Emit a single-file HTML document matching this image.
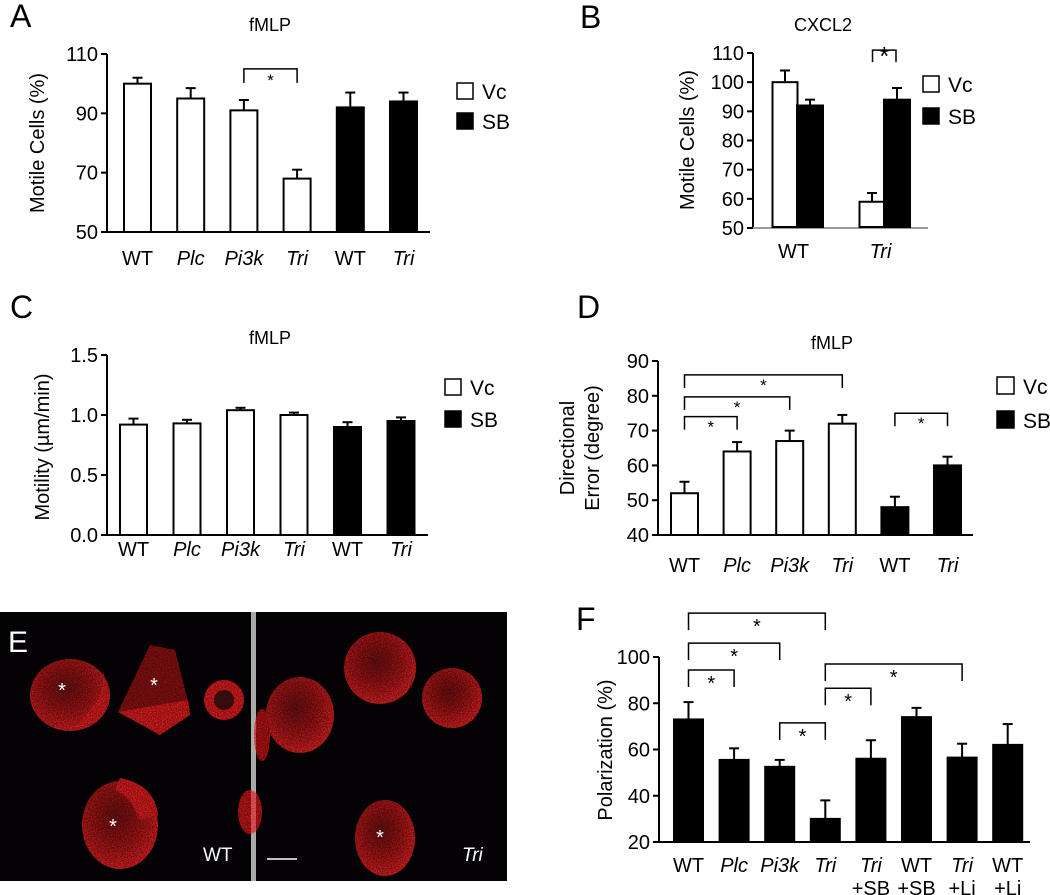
<!DOCTYPE html>
<html><head><meta charset="utf-8"><style>
html,body{margin:0;padding:0;background:#fff;}
svg{display:block;font-family:"Liberation Sans",Arial,sans-serif;}
</style></head><body>
<svg id="fig" width="1050" height="895" viewBox="0 0 1050 895" xmlns="http://www.w3.org/2000/svg">
<defs>
<filter id="speck" x="-20%" y="-20%" width="140%" height="140%">
<feTurbulence type="fractalNoise" baseFrequency="0.8" numOctaves="2" seed="3" result="n"/>
<feColorMatrix in="n" type="matrix" values="0 0 0 0 0  0 0 0 0 0  0 0 0 0 0  0 0 0 -1.0 1.15" result="m"/>
<feComposite in="SourceGraphic" in2="m" operator="in"/>
</filter>
<radialGradient id="cellg" cx="45%" cy="40%" r="60%">
<stop offset="0" stop-color="#7a1010"/><stop offset="0.6" stop-color="#c01818"/><stop offset="1" stop-color="#ff2424"/>
</radialGradient>
</defs>
<g id="panelE">
<rect x="0" y="612" width="251" height="269" fill="#050205"/>
<rect x="251" y="612" width="5" height="269" fill="#aaa"/>
<rect x="256" y="612" width="251" height="269" fill="#050205"/>
<g filter="url(#speck)">
<ellipse cx="70" cy="695" rx="40" ry="36" fill="url(#cellg)"/>
<path d="M90 710 Q108 690 102 668 Q112 700 95 722 Q80 732 72 730 Z" fill="#ff2020"/>
<path d="M150 645 L175 650 L190 710 L160 735 L118 712 Z" fill="#a01212"/>
<path d="M118 712 L188 700 L190 715 L160 735 Z" fill="#ff2020"/>
<circle cx="224" cy="700" r="20" fill="#ff2020"/>
<circle cx="224" cy="700" r="10" fill="#501010"/>
<ellipse cx="120" cy="825" rx="38" ry="44" fill="url(#cellg)"/>
<path d="M120 778 Q155 785 158 815 L140 820 Q130 795 115 790 Z" fill="#ff2020"/>
<ellipse cx="250" cy="812" rx="12" ry="22" fill="#e01818"/>
<ellipse cx="300" cy="715" rx="34" ry="38" fill="url(#cellg)"/>
<ellipse cx="262" cy="735" rx="8" ry="26" fill="#d01515"/>
<ellipse cx="380" cy="668" rx="36" ry="36" fill="url(#cellg)"/>
<ellipse cx="452" cy="698" rx="30" ry="30" fill="url(#cellg)"/>
<ellipse cx="385" cy="838" rx="30" ry="38" fill="url(#cellg)"/>
</g>
<text x="8" y="652" font-size="30" fill="#fff">E</text>
<text x="62" y="697" font-size="20" fill="#fff" text-anchor="middle">*</text>
<text x="154" y="692" font-size="20" fill="#fff" text-anchor="middle">*</text>
<text x="113" y="833" font-size="20" fill="#fff" text-anchor="middle">*</text>
<text x="380" y="844" font-size="20" fill="#fff" text-anchor="middle">*</text>
<text x="203" y="861" font-size="19" fill="#fff">WT</text>
<text x="462" y="861" font-size="19" fill="#fff" font-style="italic">Tri</text>
<line x1="267" y1="859" x2="297" y2="859" stroke="#fff" stroke-width="1.5"/>
</g>
</svg>
<script>
// Panel A
const aCats = ["WT","Plc","Pi3k","Tri","WT","Tri"];
const aVals = [100,95,91,68,92,94];
const aErrs = [2,3.5,3.5,3,5,3];
const aFill = ["w","w","w","w","b","b"];
const aTicks = [50,70,90,110];
const aBrackets = [[2,3,105]];
// Panel B
const bCats = ["WT","Tri"];
const bVc = [100,59];
const bVcErr = [4,3];
const bSB = [92,94];
const bSBErr = [2,4];
const bTicks = [50,60,70,80,90,100,110];
// Panel C
const cCats = ["WT","Plc","Pi3k","Tri","WT","Tri"];
const cVals = [0.92,0.93,1.04,1.0,0.90,0.95];
const cErrs = [0.05,0.03,0.02,0.02,0.04,0.03];
const cFill = ["w","w","w","w","b","b"];
const cTicks = [0.0,0.5,1.0,1.5];
const cTickLabels = ["0.0","0.5","1.0","1.5"];
// Panel D
const dCats = ["WT","Plc","Pi3k","Tri","WT","Tri"];
const dVals = [52,64,67,72,48,60];
const dErrs = [3.3,2.7,3,2.5,3,2.5];
const dFill = ["w","w","w","w","b","b"];
const dTicks = [40,50,60,70,80,90];
const dBrackets = [[0,3,86],[0,2,79.7],[0,1,74],[4,5,75]];
// Panel F
const fCats = [["WT"],["Plc"],["Pi3k"],["Tri"],["Tri","+SB"],["WT","+SB"],["Tri","+Li"],["WT","+Li"]];
const fItalic = [false,true,true,true,true,false,true,false];
const fVals = [73,55.5,52.5,30,56,74,56.5,62];
const fErrs = [7.5,5,3,8,8,4,6,9];
const fTicks = [20,40,60,80,100];
const fBrackets = [[0,3,119],[0,2,106],[0,1,94.4],[2,3,71.5],[3,4,86.5],[3,6,97]];

const NS="http://www.w3.org/2000/svg";
const svg=document.getElementById('fig');
function mk(tag,attrs,parent,txt){const e=document.createElementNS(NS,tag);for(const k in attrs)e.setAttribute(k,attrs[k]);if(txt!==undefined)e.textContent=txt;(parent||svg).appendChild(e);return e;}
function scale(d0,d1,p0,p1){return v=>p0+(v-d0)*(p1-p0)/(d1-d0);}
const italicSet={"Plc":1,"Pi3k":1,"Tri":1};

function axes(g,x0,x1,y,yTop,yBot,ticks,labels,hColor){
  const l1=mk('line',{x1:x0,y1:yTop,x2:x0,y2:yBot,stroke:'#000','stroke-width':2},g);
  
  
  const l2=mk('line',{x1:x0-6,y1:yBot,x2:x1,y2:yBot,stroke:hColor||'#000','stroke-width':2},g);
  
  
  ticks.forEach((t,i)=>{
    const ty=y(t);
    const tk=mk('line',{x1:x0-6,y1:ty,x2:x0,y2:ty,stroke:'#000','stroke-width':2},g);
    
    
    const tl=mk('text',{x:x0-9,y:ty+7,'font-size':20,'text-anchor':'end'},g,labels?labels[i]:String(t));
    
    
  });
}
function bar(g,cx,w,v,err,fill,y,base){
  const top=y(v);
  const eb=mk('line',{x1:cx,y1:top,x2:cx,y2:y(v+err),stroke:'#000','stroke-width':2},g);
  
  
  const cap=mk('line',{x1:cx-5,y1:y(v+err),x2:cx+5,y2:y(v+err),stroke:'#000','stroke-width':2},g);
  
  
  const r=mk('rect',{x:cx-w/2,y:top,width:w,height:base-top,fill:fill==='b'?'#000':'#fff',stroke:'#000','stroke-width':2},g);
  
  
}
function bracket(g,xa,xb,yy,drop,fs){
  const p=mk('path',{d:`M${xa} ${yy+drop}V${yy}H${xb}V${yy+drop}`,fill:'none',stroke:'#000','stroke-width':1.5},g);
  
  
  const s=mk('text',{x:(xa+xb)/2,y:yy+drop+3,'font-size':fs||17,'text-anchor':'middle'},g,'*');
  
  
}
function catLabel(g,x,y,t,it){
  const e=mk('text',{x:x,y:y,'font-size':20,'text-anchor':'middle','font-style':it?'italic':'normal'},g,t);
  
  
}
function legend(g,x,y1,y2,size){
  const a=mk('rect',{x:x,y:y1,width:size,height:size,fill:'#fff',stroke:'#000','stroke-width':1.5},g);
  
  
  const at=mk('text',{x:x+size+9,y:y1+size,'font-size':21},g,'Vc');
  
  
  const b=mk('rect',{x:x,y:y2,width:size,height:size,fill:'#000',stroke:'#000','stroke-width':1.5},g);
  
  
  const bt=mk('text',{x:x+size+9,y:y2+size,'font-size':21},g,'SB');
  
  
}
function text(g,x,y,fs,t,name,extra){
  const e=mk('text',Object.assign({x:x,y:y,'font-size':fs},extra||{}),g,t);
  
  
  return e;
}
function group(name){const g=mk('g',{});return g;}

// ---- A ----
(function(){
  const g=group('panel-a-chart');
  const y=scale(50,110,232,54);
  axes(g,107,430,y,54,232,aTicks);
  const xc=i=>137.5+i*53.2;
  aCats.forEach((c,i)=>{bar(g,xc(i),27,aVals[i],aErrs[i],aFill[i],y,232);catLabel(g,xc(i),265,c,italicSet[c]);});
  aBrackets.forEach(b=>bracket(g,xc(b[0]),xc(b[1]),y(b[2]),14));
  text(g,10,27,32,'A','panel-label-a');
  text(g,270,31,18,'fMLP','chart-title-a',{'text-anchor':'middle'});
  text(g,0,0,20,'Motile Cells (%)','y-axis-title-a',{'text-anchor':'middle',transform:'translate(44 143) rotate(-90)'});
  legend(g,457,83,113,16);
})();
// ---- B ----
(function(){
  const g=group('panel-b-chart');
  const y=scale(50,110,228,53);
  axes(g,753,928,y,53,228,bTicks,null,'#999');
  const xc=i=>797.5+i*87;
  bCats.forEach((c,i)=>{
    bar(g,xc(i)-12.5,25,bVc[i],bVcErr[i],'w',y,227);
    bar(g,xc(i)+12.5,26,bSB[i],bSBErr[i],'b',y,227);
    catLabel(g,xc(i)-4,258,c,italicSet[c]);
  });
  bracket(g,xc(1)-12.5+0.5,xc(1)+12.5-1,y(111),12,26);
  text(g,580,28,32,'B','panel-label-b');
  text(g,823,31,18,'CXCL2','chart-title-b',{'text-anchor':'middle'});
  text(g,0,0,20,'Motile Cells (%)','y-axis-title-b',{'text-anchor':'middle',transform:'translate(694 140) rotate(-90)'});
  legend(g,923,76,108,16);
})();
// ---- C ----
(function(){
  const g=group('panel-c-chart');
  const y=scale(0,1.5,535,355);
  axes(g,107,428,y,355,535,cTicks,cTickLabels);
  const xc=i=>133.5+i*53.5;
  cCats.forEach((c,i)=>{bar(g,xc(i),27,cVals[i],cErrs[i],cFill[i],y,535);catLabel(g,xc(i),556,c,italicSet[c]);});
  text(g,10,318,32,'C','panel-label-c');
  text(g,270,344,18,'fMLP','chart-title-c',{'text-anchor':'middle'});
  text(g,0,0,20,'Motility (\u00b5m/min)','y-axis-title-c',{'text-anchor':'middle',transform:'translate(49 447) rotate(-90)'});
  legend(g,445,379,411,16);
})();
// ---- D ----
(function(){
  const g=group('panel-d-chart');
  const y=scale(40,90,535,361);
  axes(g,658,973,y,361,535,dTicks);
  const xc=i=>684.5+i*52.6;
  dCats.forEach((c,i)=>{bar(g,xc(i),27,dVals[i],dErrs[i],dFill[i],y,535);catLabel(g,xc(i),572,c,italicSet[c]);});
  dBrackets.forEach(b=>bracket(g,xc(b[0]),xc(b[1]),y(b[2]),13));
  text(g,577,318,32,'D','panel-label-d');
  text(g,832,349,18,'fMLP','chart-title-d',{'text-anchor':'middle'});
  text(g,0,0,20,'Directional','y-axis-title-d-line1',{'text-anchor':'middle',transform:'translate(574 448) rotate(-90)'});
  text(g,0,0,20,'Error (degree)','y-axis-title-d-line2',{'text-anchor':'middle',transform:'translate(599 448) rotate(-90)'});
  legend(g,997,377,411,17);
})();
// ---- F ----
(function(){
  const g=group('panel-f-chart');
  const y=scale(20,100,842,657);
  axes(g,659,1030,y,657,842,fTicks);
  const xc=i=>688.5+i*45.6;
  fCats.forEach((c,i)=>{
    bar(g,xc(i),29,fVals[i],fErrs[i],'b',y,842);
    catLabel(g,xc(i),872,c[0],fItalic[i]);
    if(c[1])catLabel(g,xc(i),895,c[1],false);
  });
  fBrackets.forEach(b=>bracket(g,xc(b[0]),xc(b[1]),y(b[2]),17,20));
  text(g,576,630,32,'F','panel-label-f');
  text(g,0,0,20,'Polarization (%)','y-axis-title-f',{'text-anchor':'middle',transform:'translate(612 750) rotate(-90)'});
})();
</script>
</body></html>
